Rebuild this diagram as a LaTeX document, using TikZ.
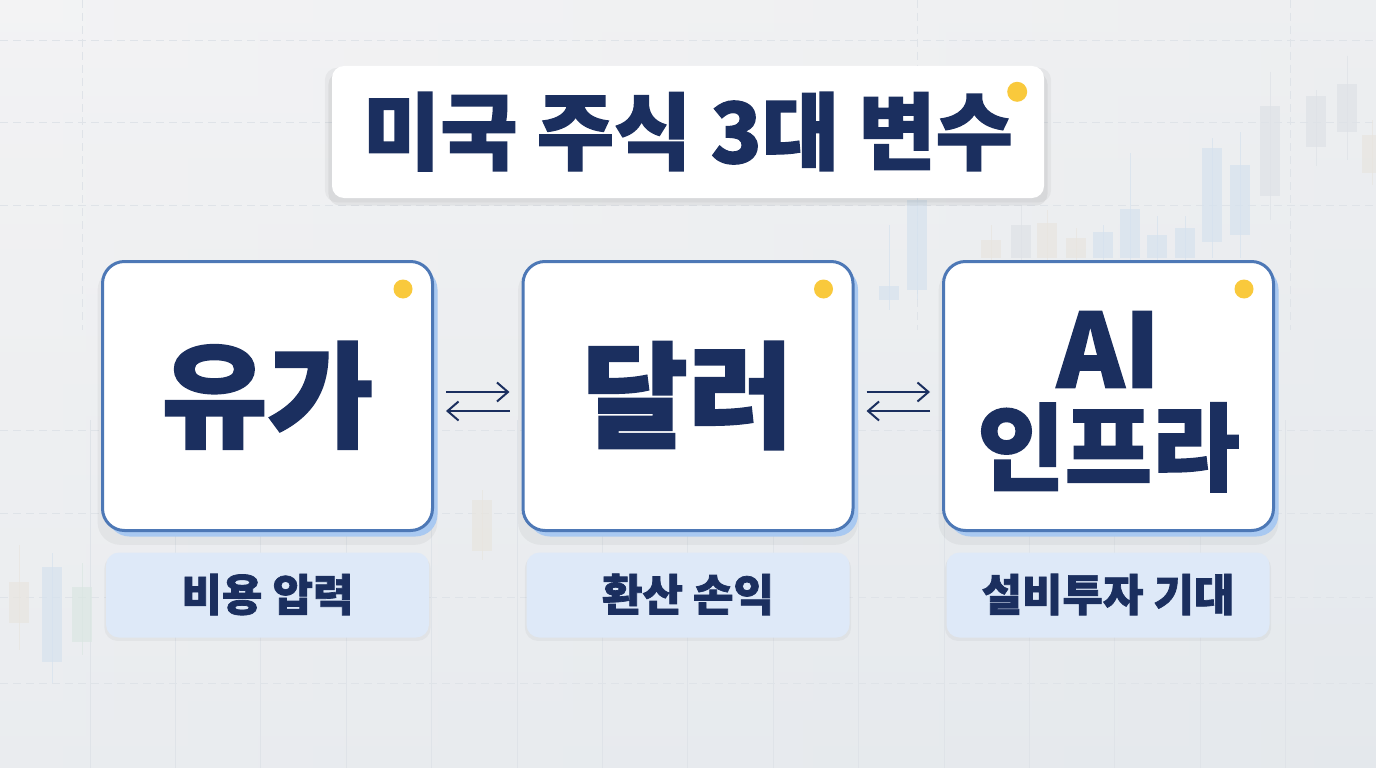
\documentclass[tikz,border=0pt]{standalone}
\usepackage{fontspec}
\newfontfamily\kr[BoldFeatures={FakeBold=1.6}]{Noto Sans CJK KR}
\newfontfamily\krs{Noto Sans CJK KR}
\usetikzlibrary{arrows.meta,calc,shadows}
\definecolor{navy}{HTML}{1B2F5F}
\definecolor{boxline}{HTML}{4D78B6}
\definecolor{boxshadow}{HTML}{A9C9F1}
\definecolor{sublbl}{HTML}{DEE9F8}
\definecolor{dotyellow}{HTML}{F9C93C}
\definecolor{gridc}{HTML}{DFE3E8}
\definecolor{cB}{HTML}{D6E2EE}
\definecolor{cT}{HTML}{E8E5DF}
\definecolor{cG}{HTML}{DEE2E7}
\definecolor{cN}{HTML}{DAE6E2}
\definecolor{bgL}{HTML}{F3F3F4}
\definecolor{bgR}{HTML}{E8EBEE}
\definecolor{bgB}{HTML}{E2E7EC}
\tikzset{
  gridline/.style={draw=gridc, line width=0.8pt},
  gridtop/.style={gridline, dash pattern=on 8pt off 5pt},
  titlebox/.style={fill=white, rounded corners=12pt, minimum width=712pt, minimum height=132pt, inner sep=0pt,
    general shadow={fill=black, opacity=0.05, shadow yshift=-7pt, shadow scale=1.01},
    general shadow={fill=black, opacity=0.04, shadow yshift=-3pt, shadow scale=1.02},
    font=\kr\bfseries\fontsize{84}{90}\selectfont, text=navy, text height=67pt, text depth=5pt},
  mainbox/.style={draw=boxline, line width=3pt, fill=white, rounded corners=22pt, minimum width=330pt, minimum height=269pt, inner sep=0pt,
    general shadow={fill=black, opacity=0.04, shadow yshift=-10pt, shadow scale=1.03},
    general shadow={fill=boxshadow, shadow xshift=5pt, shadow yshift=-6pt},
    font=\kr\bfseries\fontsize{115}{120}\selectfont, text=navy, text height=92pt, text depth=7pt},
  subbox/.style={fill=sublbl, rounded corners=13pt, minimum width=323pt, minimum height=85pt, inner sep=0pt,
    general shadow={fill=black, opacity=0.035, shadow yshift=-3pt, shadow scale=1.01},
    font=\kr\bfseries\fontsize{44}{48}\selectfont, text=navy, text height=35pt, text depth=3pt},
  latintxt/.style={font=\kr\bfseries\fontsize{102}{110}\selectfont, text=navy, inner sep=0pt, text height=75pt, text depth=0pt},
  hangultxt/.style={font=\kr\bfseries\fontsize{95}{100}\selectfont, text=navy, inner sep=0pt, text height=76pt, text depth=6pt},
  dot/.style={fill=dotyellow},
  conn/.style={draw=navy, line width=2pt, -{Straight Barb[length=11pt,width=19pt]}, shorten <=12pt, shorten >=12pt},
}
\begin{document}
\begin{tikzpicture}[x=1pt,y=-1pt]
\useasboundingbox (0,0) rectangle (1376,768);
\shade[left color=bgL, right color=bgR] (0,0) rectangle (1376,768);
\shade[top color=bgL, bottom color=bgB, opacity=0.5] (0,0) rectangle (1376,768);
% background grid
\foreach \y in {40,122,205,430,513,597,683} \draw[gridtop] (0,\y) -- (1376,\y);
\foreach \x in {82,917,1290} \draw[gridtop] (\x,0) -- (\x,330);
\foreach \k in {0,...,14} \draw[gridline] ({90+85.4*\k},420) -- ({90+85.4*\k},768);
% faint candles
\begin{scope}[opacity=0.7]
\foreach \cx/\bt/\bb/\wt/\wb/\cc in {917/200/290/190/300/cB, 889/286/300/225/310/cB, 991/240/258/225/262/cT,
  1021/225/258/205/262/cG, 1047/223/258/210/262/cT, 1076/238/258/228/262/cT, 1103/232/258/225/262/cB,
  1130/209/258/153/262/cB, 1157/235/258/216/262/cB, 1185/228/258/216/262/cB, 1212/148/242/138/258/cB,
  1240/165/235/132/258/cB, 1270/106/196/72/220/cG, 1316/96/147/90/166/cG, 1347/84/132/56/160/cG,
  1372/135/173/120/185/cT, 19/582/623/545/650/cT, 52/567/662/553/683/cB, 82/587/642/563/655/cN,
  482/500/551/490/560/cT}
{
  \draw[\cc, line width=1pt] (\cx,\wt) -- (\cx,\wb);
  \fill[\cc] (\cx-10,\bt) rectangle (\cx+10,\bb);
}
\end{scope}
% title
\node[titlebox] (title) at (688,132) {미국 주식 3대 변수};
\fill[dot] ($(title.north east)+(-27,26)$) circle (10);
% main boxes
\node[mainbox] (b1) at (267.5,396) {유가};
\node[mainbox] (b2) at (688,396) {달러};
\node[mainbox] (b3) at (1108.5,396) {};
\node[latintxt] (b3a) at ($(b3.center)+(0,-46)$) {AI};
\node[hangultxt] (b3b) at ($(b3.center)+(0,52)$) {인프라};
\foreach \b in {b1,b2,b3} \fill[dot] ($(\b.north east)+(-31,29)$) circle (9.5);
% sub labels
\node[subbox] (s1) at (267.5,595) {비용 압력};
\node[subbox] (s2) at (688,595) {환산 손익};
\node[subbox] (s3) at (1108,595) {설비투자 기대};
% connectors
\draw[conn] ([yshift=4pt]b1.east) -- ([yshift=4pt]b2.west);
\draw[conn] ([yshift=-15pt]b2.west) -- ([yshift=-15pt]b1.east);
\draw[conn] ([yshift=4pt]b2.east) -- ([yshift=4pt]b3.west);
\draw[conn] ([yshift=-15pt]b3.west) -- ([yshift=-15pt]b2.east);
\end{tikzpicture}
\end{document}
